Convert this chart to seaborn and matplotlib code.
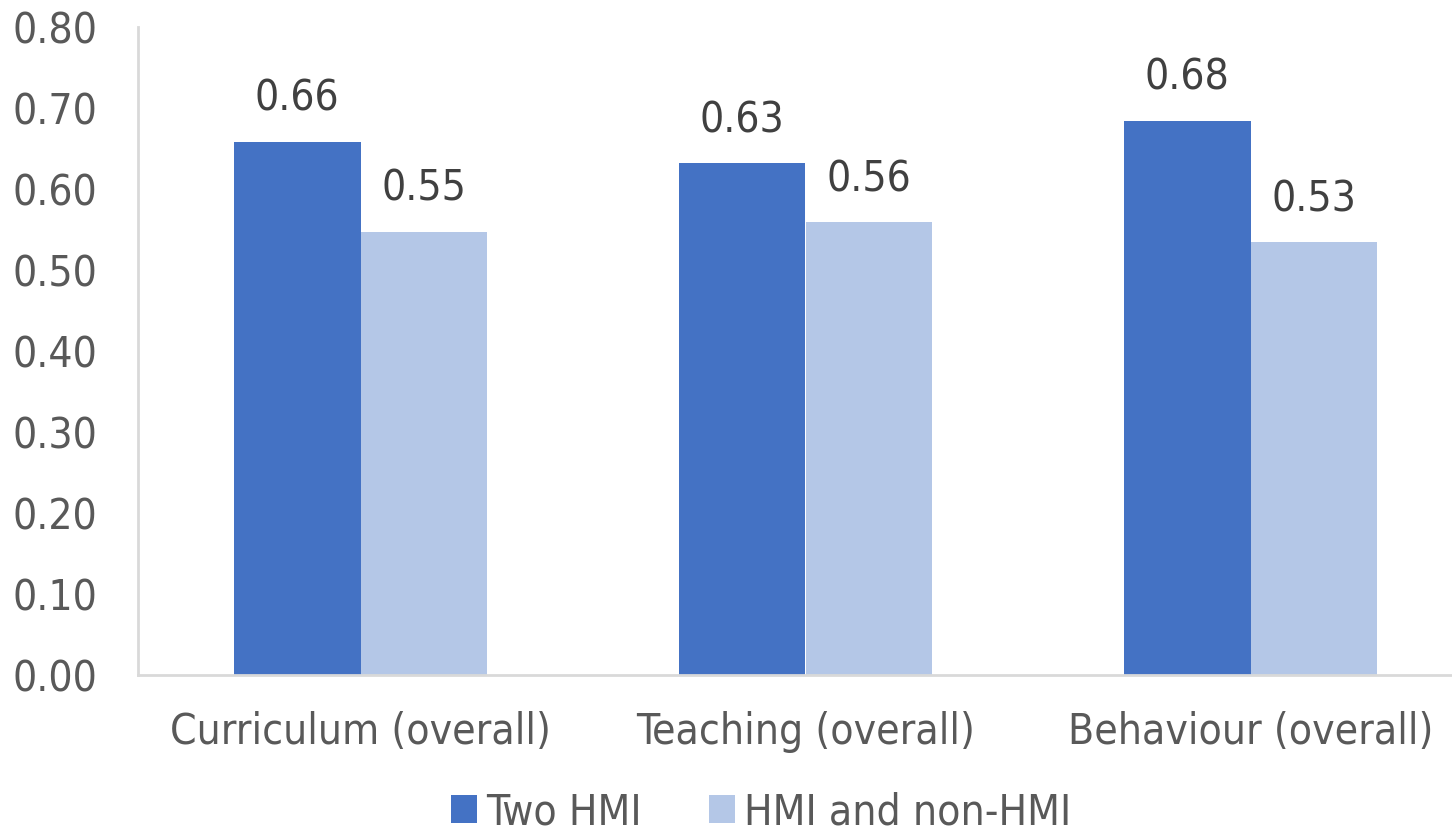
import matplotlib
matplotlib.use("Agg")
import matplotlib.pyplot as plt
import seaborn as sns
import pandas as pd
from matplotlib.patches import Patch

categories = ["Curriculum (overall)", "Teaching (overall)", "Behaviour (overall)"]
series_names = ["Two HMI", "HMI and non-HMI"]
two_hmi = [0.658, 0.632, 0.684]
hmi_non_hmi = [0.547, 0.559, 0.534]
y_ticks = [0.0, 0.1, 0.2, 0.3, 0.4, 0.5, 0.6, 0.7, 0.8]
colors = ["#4472C4", "#B4C7E7"]

df = pd.DataFrame({
    "category": categories * 2,
    "series": [series_names[0]] * 3 + [series_names[1]] * 3,
    "value": two_hmi + hmi_non_hmi,
})

sns.set_theme(style="white")
plt.rcParams["font.family"] = ["DejaVu Sans"]
plt.rcParams["font.stretch"] = "condensed"
text_color = "#595959"
fs = 30.5

fig = plt.figure(figsize=(14.52, 8.38), dpi=100)
ax = fig.add_axes([138 / 1452, (838 - 675) / 838, 1335 / 1452, 648 / 838])

sns.barplot(data=df, x="category", y="value", hue="series", order=categories,
            hue_order=series_names, palette=colors, width=0.57, gap=0,
            saturation=1, edgecolor="none", linewidth=0, ax=ax, legend=False)

ax.set_xlim(-0.5, 2.5)
ax.set_ylim(0, 0.8)
ax.set_yticks(y_ticks)
ax.set_yticklabels([f"{t:.2f}" for t in y_ticks])
ax.set_xlabel("")
ax.set_ylabel("")
ax.tick_params(axis="y", length=0, pad=29, labelsize=fs, labelcolor=text_color)
ax.tick_params(axis="x", length=0, pad=26, labelsize=fs, labelcolor=text_color)

for side in ["top", "right"]:
    ax.spines[side].set_visible(False)
for side in ["left", "bottom"]:
    ax.spines[side].set_color("#D9D9D9")
    ax.spines[side].set_linewidth(2)

for container in ax.containers:
    for bar in container:
        h = bar.get_height()
        ax.annotate(f"{h:.2f}", (bar.get_x() + bar.get_width() / 2, h),
                    xytext=(0, 31), textcoords="offset points",
                    ha="center", va="center", fontsize=fs, color="#404040")

handles = [Patch(facecolor=c, edgecolor="none") for c in colors]
fig.legend(handles, series_names, loc="center", bbox_to_anchor=(761 / 1452, 1 - 812 / 838),
           ncol=2, frameon=False, fontsize=fs, labelcolor=text_color,
           handlelength=0.61, handleheight=0.61, handletextpad=0.21, columnspacing=1.6,
           borderpad=0, borderaxespad=0)

fig.savefig("out.png", dpi=100)
